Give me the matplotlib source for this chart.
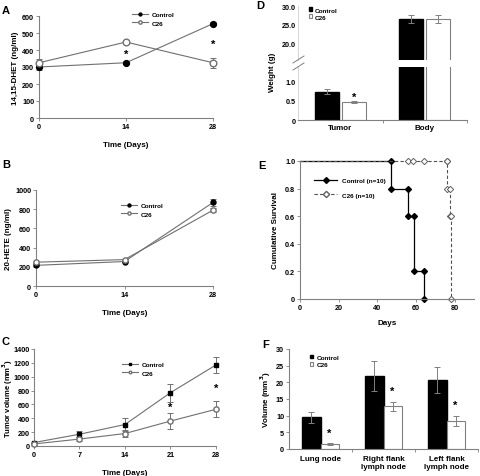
import matplotlib
matplotlib.use("Agg")
import matplotlib.pyplot as plt
import numpy as np

plt.rcParams['font.family'] = ['Liberation Sans', 'DejaVu Sans']
plt.rcParams['font.weight'] = 'bold'

# ---------------- data ----------------
# Panel A: 14,15-DHET
a_days = [0, 14, 28]
a_control = [300, 325, 555]
a_control_err = [15, 8, 10]
a_c26 = [325, 447, 325]
a_c26_err = [25, 8, 28]
a_star_y = [380, 435]
a_star_x = [14, 28]

# Panel B: 20-HETE
b_days = [0, 14, 28]
b_control = [215, 255, 870]
b_control_err = [10, 10, 40]
b_c26 = [248, 275, 790]
b_c26_err = [10, 10, 20]

# Panel C: tumour volume
c_days = [0, 7, 14, 21, 28]
c_control = [50, 170, 310, 770, 1170]
c_control_err = [10, 40, 90, 130, 110]
c_c26 = [30, 100, 180, 360, 530]
c_c26_err = [10, 30, 50, 120, 115]
c_star_x = [21, 28]
c_star_y = [560, 840]

# Panel D: weights
d_cats = ['Tumor', 'Body']
d_control = [0.73, 26.5]
d_control_err = [0.06, 1.0]
d_c26 = [0.47, 26.5]
d_c26_err = [0.03, 1.1]
d_star_y = 0.6

# Panel E: survival
e_ctrl_t = [0, 47, 56, 59, 64]
e_ctrl_s = [1.0, 0.8, 0.6, 0.2, 0.0]
e_c26_t = [0, 76, 77.7, 78]
e_c26_s = [1.0, 0.8, 0.6, 0.0]
e_c26_censor_t = [56, 58.6, 64, 76]

# Panel F: node volumes
f_cats = ['Lung node', 'Right flank\nlymph node', 'Left flank\nlymph node']
f_control = [9.5, 22.0, 20.7]
f_control_err = [1.7, 4.5, 3.8]
f_c26 = [1.4, 12.8, 8.5]
f_c26_err = [0.3, 1.4, 1.5]

GRAY = '#808080'
LINE = '#707070'
TICK_FS = 5.2
LAB_FS = 5.8
LEG_FS = 4.6

fig = plt.figure(figsize=(4.8, 4.77), dpi=100)

def px_axes(x0, y0, x1, y1):
    W, H = 480, 477
    return fig.add_axes([x0 / W, 1 - y1 / H, (x1 - x0) / W, (y1 - y0) / H])

def style(ax):
    for s in ['top', 'right']:
        ax.spines[s].set_visible(False)
    for s in ['left', 'bottom']:
        ax.spines[s].set_color(GRAY)
        ax.spines[s].set_linewidth(0.8)
    ax.tick_params(axis='both', colors=GRAY, labelcolor='black', labelsize=TICK_FS,
                   length=2, width=0.6, pad=1.5)
    for lab in ax.get_xticklabels() + ax.get_yticklabels():
        lab.set_fontweight('bold')

def label(x, y, t):
    fig.text(x / 480, 1 - y / 477, t, fontsize=8, fontweight='bold', ha='left', va='center')

def line_panel(ax, x, yc, ec, yt, et, mk_c, ms_c, ms_t):
    ax.errorbar(x, yc, yerr=ec, fmt='none', ecolor=LINE, elinewidth=0.7, capsize=2,
                capthick=0.7, clip_on=False)
    ax.errorbar(x, yt, yerr=et, fmt='none', ecolor=LINE, elinewidth=0.7, capsize=2,
                capthick=0.7, clip_on=False)
    ax.plot(x, yc, color=LINE, lw=0.8, marker=mk_c, ms=ms_c, mfc='black', mec='black',
            label='Control', clip_on=False, zorder=3)
    ax.plot(x, yt, color=LINE, lw=0.8, marker='o', ms=ms_t, mfc='white', mec=LINE,
            label='C26', clip_on=False, zorder=3)

# ---------- Panel A ----------
ax = px_axes(39, 17, 213, 119)
line_panel(ax, a_days, a_control, a_control_err, a_c26, a_c26_err, 'o', 4.2, 4.8)
for x, y in zip(a_star_x, a_star_y):
    ax.text(x, y, '*', ha='center', va='center', fontsize=8, fontweight='bold')
ax.set_xlim(0, 28)
ax.set_ylim(0, 600)
ax.set_xticks([0, 14, 28])
ax.set_yticks(range(0, 601, 100))
ax.set_xlabel('Time (Days)', fontsize=LAB_FS, fontweight='bold', labelpad=8)
ax.set_ylabel('14,15-DHET (ng/ml)', fontsize=LAB_FS, fontweight='bold', labelpad=2)
ax.legend(loc='upper left', bbox_to_anchor=(0.5, 1.1), frameon=False, fontsize=LEG_FS,
          markerscale=0.5, handlelength=2.5, labelspacing=0.5, handletextpad=0.6)
style(ax)
label(2, 11, 'A')

# ---------- Panel B ----------
ax = px_axes(36, 191, 213, 287)
line_panel(ax, b_days, b_control, b_control_err, b_c26, b_c26_err, 'o', 3.6, 3.8)
ax.set_xlim(0, 28)
ax.set_ylim(0, 1000)
ax.set_xticks([0, 14, 28])
ax.set_yticks(range(0, 1001, 200))
ax.set_xlabel('Time (Days)', fontsize=LAB_FS, fontweight='bold', labelpad=8)
ax.set_ylabel('20-HETE (ng/ml)', fontsize=LAB_FS, fontweight='bold', labelpad=2)
ax.legend(loc='upper left', bbox_to_anchor=(0.45, 0.93), frameon=False, fontsize=LEG_FS,
          markerscale=0.6, handlelength=2.5, labelspacing=0.5, handletextpad=0.6)
style(ax)
label(2, 165, 'B')

# ---------- Panel C ----------
ax = px_axes(34, 350, 216, 447)
line_panel(ax, c_days, c_control, c_control_err, c_c26, c_c26_err, 's', 3.2, 3.8)
for x, y in zip(c_star_x, c_star_y):
    ax.text(x, y, '*', ha='center', va='center', fontsize=8, fontweight='bold')
ax.set_xlim(0, 28)
ax.set_ylim(0, 1400)
ax.set_xticks(c_days)
ax.set_yticks(range(0, 1401, 200))
ax.set_xlabel('Time (Days)', fontsize=LAB_FS, fontweight='bold', labelpad=8)
ax.set_ylabel('Tumor volume (mm$^3$)', fontsize=5.5, fontweight='bold')
ax.yaxis.set_label_coords(-0.105, 0.5)
ax.legend(loc='upper left', bbox_to_anchor=(0.45, 0.93), frameon=False, fontsize=LEG_FS,
          markerscale=0.5, handlelength=2.5, labelspacing=0.5, handletextpad=0.6)
style(ax)
ax.tick_params(axis='y', pad=1)
label(2, 342, 'C')

# ---------- Panel D (broken axis) ----------
axu = px_axes(298, 7, 467, 61)
axl = px_axes(298, 68, 467, 121)
xd = np.arange(len(d_cats))
w = 0.28
for a in (axu, axl):
    a.bar(xd - 0.16, d_control, w, yerr=d_control_err, color='black', edgecolor='black',
          ecolor=GRAY, error_kw=dict(elinewidth=0.7, capsize=2.5, capthick=0.7), label='Control')
    a.bar(xd + 0.16, d_c26, w, yerr=d_c26_err, color='white', edgecolor=GRAY, linewidth=0.8,
          ecolor=GRAY, error_kw=dict(elinewidth=0.7, capsize=2.5, capthick=0.7), label='C26')
    a.set_xlim(-0.5, 1.5)
axu.set_ylim(15.5, 30)
axl.set_ylim(0, 1.36)
axu.set_yticks([20, 25, 30])
axu.set_yticklabels(['20.0', '25.0', '30.0'])
axl.set_yticks([0, 0.5, 1.0])
axl.set_yticklabels(['0', '0.5', '1.0'])
axl.set_xticks(xd)
axl.set_xticklabels(d_cats, fontsize=LAB_FS, fontweight='bold')
axl.set_xticks([0.5, 1.5], minor=True)
style(axu)
style(axl)
axu.spines['bottom'].set_visible(False)
axu.spines['left'].set_color('#d8d8d8')
axl.spines['left'].set_color('#d8d8d8')
axu.tick_params(axis='x', bottom=False, labelbottom=False)
axu.tick_params(axis='y', length=0)
axl.tick_params(axis='x', length=0, which='major', labelsize=LAB_FS, pad=3)
axl.tick_params(axis='x', which='minor', length=2, width=0.6, colors=GRAY)
axl.tick_params(axis='y', length=0)
axl.text(0.16, d_star_y, '*', ha='center', va='center', fontsize=8, fontweight='bold')
fig.lines.append(plt.Line2D([293/480, 304/480], [1 - 64/477, 1 - 57/477], color=GRAY, lw=0.7,
                            transform=fig.transFigure))
fig.lines.append(plt.Line2D([293/480, 304/480], [1 - 71/477, 1 - 64/477], color=GRAY, lw=0.7,
                            transform=fig.transFigure))
fig.text(272/480, 1 - 72/477, 'Weight (g)', rotation=90, fontsize=LAB_FS, fontweight='bold',
         ha='center', va='center')
axu.legend(loc='upper left', bbox_to_anchor=(0.03, 1.08), frameon=False, fontsize=LEG_FS,
           handlelength=0.5, handleheight=0.5, labelspacing=0.3, handletextpad=0.5)
label(256, 6, 'D')

# ---------- Panel E ----------
ax = px_axes(300, 162, 474, 300)
ax.step(e_ctrl_t, e_ctrl_s, where='post', color='black', lw=0.9, clip_on=False)
mx, my = [], []
for i in range(1, len(e_ctrl_t)):
    mx += [e_ctrl_t[i], e_ctrl_t[i]]
    my += [e_ctrl_s[i - 1], e_ctrl_s[i]]
ax.plot(mx, my, 'D', color='black', ms=3, clip_on=False)
ax.step(e_c26_t, e_c26_s, where='post', color='#505050', lw=0.8, ls=(0, (3, 2)), clip_on=False)
cx, cy = list(e_c26_censor_t), [e_c26_s[0]] * len(e_c26_censor_t)
for i in range(1, len(e_c26_t)):
    cx += [e_c26_t[i], e_c26_t[i]]
    cy += [e_c26_s[i - 1], e_c26_s[i]]
ax.plot(cx, cy, 'D', mfc='white', mec='#606060', mew=0.7, ms=3.2, ls='none', clip_on=False)
ax.plot([], [], color='black', lw=0.9, marker='D', ms=3, label='Control (n=10)')
ax.plot([], [], color='#505050', lw=0.8, ls=(0, (3, 2)), marker='D', ms=3.2, mfc='white',
        mec='#606060', label='C26 (n=10)')
ax.set_xlim(0, 90)
ax.set_ylim(0, 1.0)
ax.set_xticks([0, 20, 40, 60, 80])
ax.set_yticks([0, 0.2, 0.4, 0.6, 0.8, 1.0])
ax.set_yticklabels(['0', '0.2', '0.4', '0.6', '0.8', '1.0'])
ax.set_xlabel('Days', fontsize=LAB_FS, fontweight='bold', labelpad=6)
ax.set_ylabel('Cumulative Survival', fontsize=LAB_FS, fontweight='bold', labelpad=4)
ax.legend(loc='upper left', bbox_to_anchor=(0.05, 0.92), frameon=False, fontsize=LEG_FS,
          handlelength=3.5, labelspacing=1.4, handletextpad=0.8)
style(ax)
label(258, 166, 'E')

# ---------- Panel F ----------
ax = px_axes(289, 350, 478, 450)
xf = np.arange(len(f_cats))
wf = 0.29
ax.bar(xf - wf / 2, f_control, wf, yerr=f_control_err, color='black', edgecolor='black',
       ecolor=GRAY, error_kw=dict(elinewidth=0.7, capsize=2.5, capthick=0.7), label='Control')
ax.bar(xf + wf / 2, f_c26, wf, yerr=f_c26_err, color='white', edgecolor=GRAY, linewidth=0.8,
       ecolor=GRAY, error_kw=dict(elinewidth=0.7, capsize=2.5, capthick=0.7), label='C26')
for i in range(len(f_cats)):
    ax.text(xf[i] + wf / 2, f_c26[i] + f_c26_err[i] + 3.2, '*', ha='center', va='center',
            fontsize=8, fontweight='bold')
ax.set_xlim(-0.5, 2.5)
ax.set_ylim(0, 30)
ax.set_yticks(range(0, 31, 5))
ax.set_xticks(xf)
ax.set_xticklabels(f_cats, fontsize=LAB_FS, fontweight='bold')
ax.set_xticks([0.5, 1.5, 2.5], minor=True)
ax.set_ylabel('Volume (mm$^3$)', fontsize=LAB_FS, fontweight='bold', labelpad=2)
ax.legend(loc='upper left', bbox_to_anchor=(0.08, 1.0), frameon=False, fontsize=LEG_FS,
          handlelength=0.5, handleheight=0.5, labelspacing=0.4, handletextpad=0.5)
style(ax)
ax.tick_params(axis='x', which='major', length=0, labelsize=LAB_FS, pad=4)
ax.tick_params(axis='x', which='minor', length=2, width=0.6, colors=GRAY)
label(262, 345, 'F')

fig.savefig('out.png', dpi=100)
